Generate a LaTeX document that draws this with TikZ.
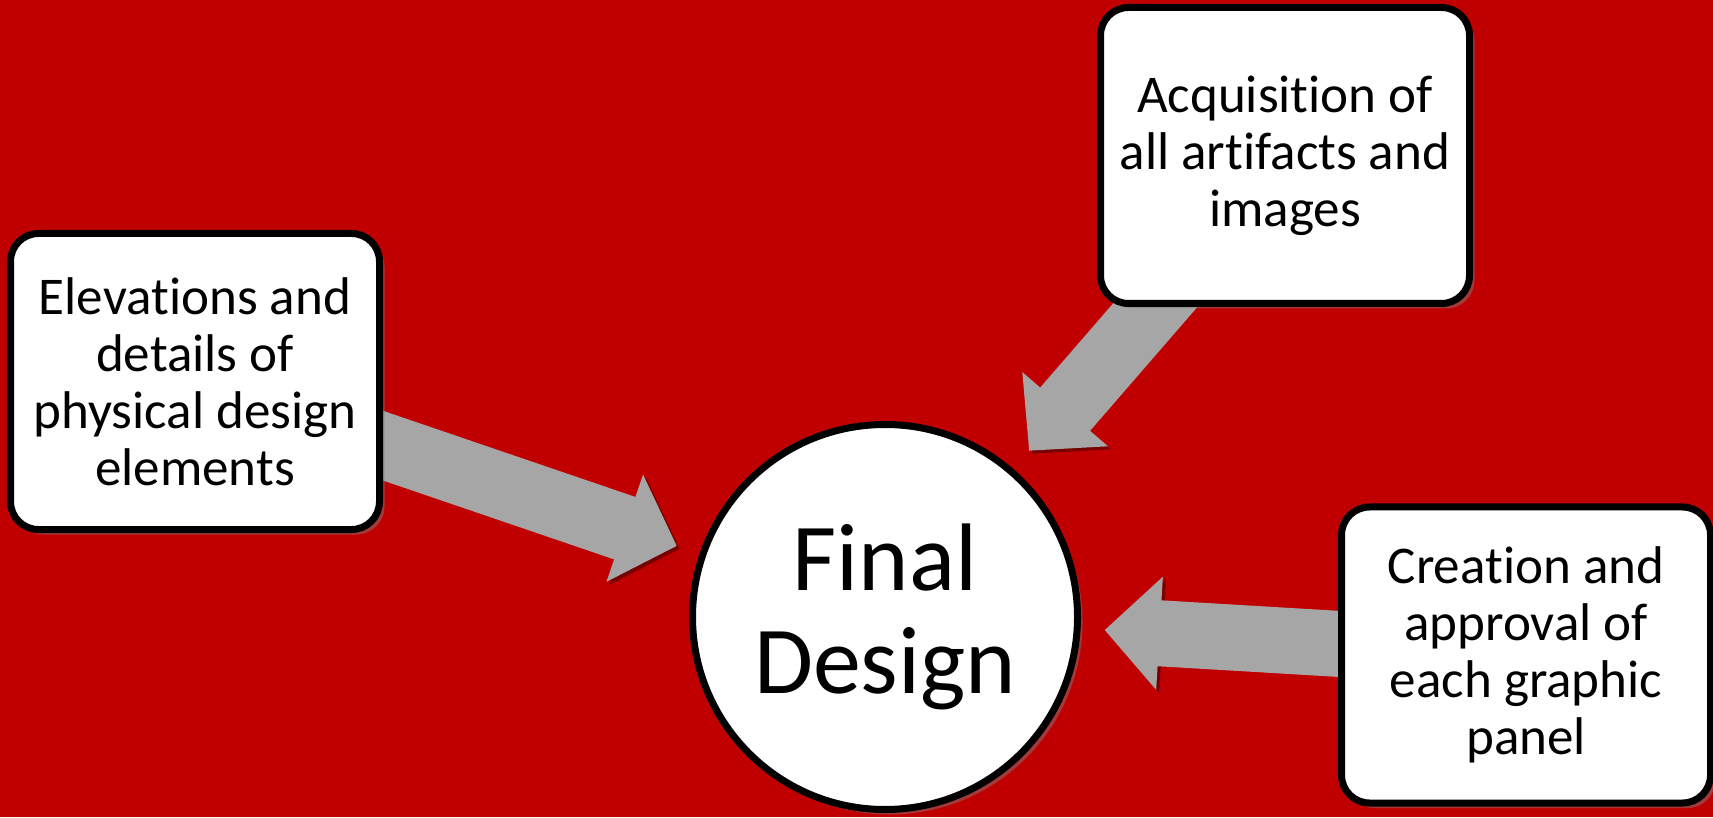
\documentclass[tikz,border=0pt]{standalone}
\usepackage{fontspec}
\setmainfont{Carlito}[Ligatures=NoCommon]
\usetikzlibrary{arrows.meta,shapes,positioning,shadows,calc,backgrounds}
\definecolor{fondo}{RGB}{192,0,0}
\definecolor{flecha}{RGB}{166,166,166}
\definecolor{sombra}{RGB}{120,0,0}
\tikzset{
  basic/.style = {draw=black, fill=white, line width=0.07cm, align=center,
                  drop shadow={shadow xshift=0.05cm, shadow yshift=-0.05cm, opacity=0.45}},
  box/.style   = {basic, rectangle, rounded corners=0.28cm, inner sep=0pt,
                  minimum width=3.69cm, minimum height=2.96cm,
                  font=\fontsize{15.1}{16.2}\selectfont},
  goal/.style  = {basic, circle, inner sep=0pt, minimum size=3.85cm,
                  font=\fontsize{27.3}{29.3}\selectfont},
  block/.style = {draw=flecha, line width=0.66cm,
                  -{Triangle[length=0.55cm, width=1.1cm]},
                  preaction={draw=sombra, transform canvas={xshift=0.03cm, yshift=-0.03cm}}}
}

\begin{document}
\begin{tikzpicture}
\useasboundingbox (0,0) rectangle (17.13,8.17);

% circulo central
\node[goal] (final) at (8.85,2.00) {Final\\Design};

% cajas de entrada
\node[box] (elev) at (1.95,4.355) {Elevations and\\details of\\physical design\\elements};
\node[box] (acq)  at (12.85,6.615) {Acquisition of\\all artifacts and\\images};
\node[box] (crea) at (15.26,1.62) {Creation and\\approval of\\each graphic\\panel};

% fondo y flechas por debajo
\begin{pgfonlayer}{background}
\fill[fondo] (0,0) rectangle (17.13,8.17);
\foreach \caja in {elev,acq,crea}
  \draw[block] (\caja.center) -- ($(final.center)!2.2cm!(\caja.center)$);
\end{pgfonlayer}
\end{tikzpicture}
\end{document}
